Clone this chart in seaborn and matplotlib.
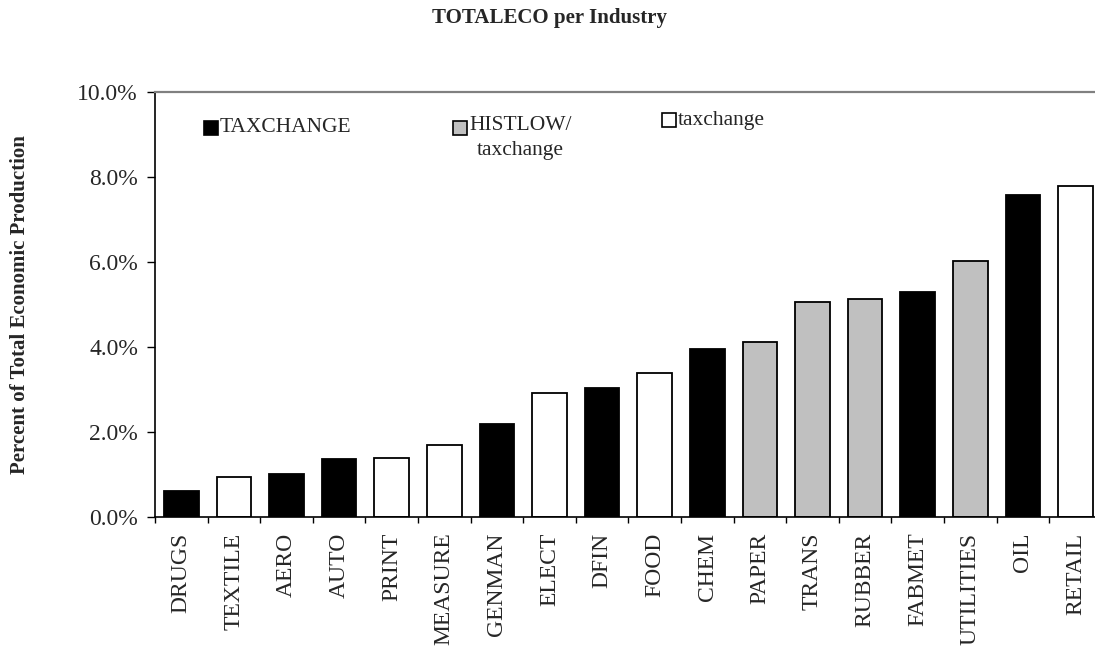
import numpy as np
import pandas as pd
import matplotlib
matplotlib.use("Agg")
import matplotlib.pyplot as plt
import seaborn as sns
from matplotlib.patches import Rectangle
from matplotlib.ticker import FuncFormatter

# ---- data ----
industries = ["DRUGS", "TEXTILE", "AERO", "AUTO", "PRINT", "MEASURE", "GENMAN",
              "ELECT", "DFIN", "FOOD", "CHEM", "PAPER", "TRANS", "RUBBER",
              "FABMET", "UTILITIES", "OIL", "RETAIL"]
share_pct = [0.61, 0.93, 1.01, 1.35, 1.39, 1.69, 2.19, 2.90, 3.02, 3.39,
             3.95, 4.12, 5.05, 5.13, 5.29, 6.02, 7.58, 7.77]
group = ["TAXCHANGE", "taxchange", "TAXCHANGE", "TAXCHANGE", "taxchange",
         "taxchange", "TAXCHANGE", "taxchange", "TAXCHANGE", "taxchange",
         "TAXCHANGE", "HISTLOW/taxchange", "HISTLOW/taxchange",
         "HISTLOW/taxchange", "TAXCHANGE", "HISTLOW/taxchange", "TAXCHANGE",
         "taxchange"]
group_keys = ["TAXCHANGE", "HISTLOW/taxchange", "taxchange"]
legend_labels = ["TAXCHANGE", "HISTLOW/\ntaxchange", "taxchange"]
y_ticks = [0, 2, 4, 6, 8, 10]
title = "TOTALECO per Industry"
y_label = "Percent of Total Economic Production"

palette = {"TAXCHANGE": "#000000", "HISTLOW/taxchange": "#C0C0C0",
           "taxchange": "#FFFFFF"}

df = pd.DataFrame({"industry": industries, "share": share_pct, "group": group})

sns.set_style("white")
plt.rcParams["font.family"] = ["Liberation Serif", "DejaVu Serif"]

W, H = 1095, 647
fig = plt.figure(figsize=(W / 100, H / 100), dpi=100)
ax_left, ax_right, ax_top, ax_bot = 155, 1101.8, 91.7, 516.7
ax = fig.add_axes([ax_left / W, (H - ax_bot) / H,
                   (ax_right - ax_left) / W, (ax_bot - ax_top) / H])

sns.barplot(data=df, x="industry", y="share", hue="group", order=industries,
            hue_order=group_keys, palette=palette, dodge=False, width=0.66,
            edgecolor="black", linewidth=1.3, legend=False, ax=ax)

ax.set_xlim(-0.5, len(industries) - 0.5)
ax.set_ylim(0, 10)
ax.set_yticks(y_ticks)
ax.yaxis.set_major_formatter(FuncFormatter(lambda v, p: f"{v:.1f}%"))
ax.set_xticks(range(len(industries)))
ax.set_xticklabels(industries, rotation=90, fontsize=17)
ax.set_xticks(np.arange(-0.5, len(industries), 1.0), minor=True)
ax.tick_params(axis="x", which="major", length=0, pad=11.5)
ax.tick_params(axis="x", which="minor", length=4.5, width=1, color="black",
               direction="out", bottom=True)
ax.tick_params(axis="y", length=5.8, width=1, color="black", direction="out",
               left=True, labelsize=17, pad=6.5)
ax.set_xlabel("")
ax.set_ylabel(y_label, fontsize=15, fontweight="bold")
ax.yaxis.set_label_coords((30 - ax_left) / (ax_right - ax_left), 0.5)

for s in ["left", "bottom"]:
    ax.spines[s].set_color("black")
    ax.spines[s].set_linewidth(1.2)
ax.spines["top"].set_color("#808080")
ax.spines["top"].set_linewidth(1.6)
ax.spines["right"].set_visible(False)

# legend (manual layout to match the reference)
def px_to_ax(x, y):
    return ((x - ax_left) / (ax_right - ax_left), (ax_bot - y) / (ax_bot - ax_top))

sq = 14
leg_pos = [(204, 128), (453, 128), (662, 120)]
for key, lab, (lx, ly) in zip(group_keys, legend_labels, leg_pos):
    x0, y0 = px_to_ax(lx, ly + sq / 2)
    x1, y1 = px_to_ax(lx + sq, ly - sq / 2)
    ax.add_patch(Rectangle((x0, y0), x1 - x0, y1 - y0, transform=ax.transAxes,
                           facecolor=palette[key], edgecolor="black",
                           linewidth=1.2, clip_on=False))
    if "\n" in lab:
        tx, ty = px_to_ax(lx + sq + 2, ly - 12)
        va = "top"
    else:
        tx, ty = px_to_ax(lx + sq + 2, ly)
        va = "center"
    ax.text(tx, ty, lab, transform=ax.transAxes, fontsize=15.5, ha="left",
            va=va, multialignment="center", linespacing=1.45)

fig.text(550 / W, 1 - 17.5 / H, title, ha="center", va="center",
         fontsize=15, fontweight="bold")

fig.savefig("out.png", dpi=100)
